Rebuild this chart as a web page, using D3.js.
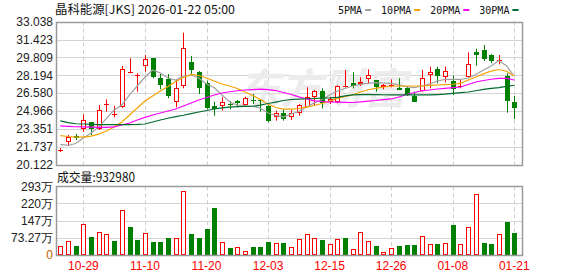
<!DOCTYPE html>
<html>
<head>
<meta charset="utf-8">
<script src="https://cdn.jsdelivr.net/npm/d3@7"></script>
<style>
  body { margin: 0; background: #fff; }
  text { font-family: "Liberation Sans", Arial, sans-serif; }
</style>
</head>
<body>
<div id="svgContainer"></div>
<script>
var dates = ["10-24","10-27","10-28","10-29","10-30","10-31","11-03","11-04","11-05","11-06",
  "11-07","11-10","11-11","11-12","11-13","11-14","11-17","11-18","11-19","11-20",
  "11-21","11-24","11-25","11-26","11-28","12-01","12-02","12-03","12-04","12-05",
  "12-08","12-09","12-10","12-11","12-12","12-15","12-16","12-17","12-18","12-19",
  "12-22","12-23","12-24","12-26","12-29","12-30","12-31","01-02","01-05","01-06",
  "01-07","01-08","01-09","01-12","01-13","01-14","01-15","01-16","01-20","01-21"];

var opens = [21.42, 22.14, 22.68, 23.37, 23.98, 23.37, 25.50, 24.66, 25.31, 28.48,
  28.15, 29.01, 29.76, 27.93, 27.86, 25.76, 27.23, 29.37, 28.47, 27.47,
  25.42, 25.42, 25.63, 25.87, 25.51, 26.00, 25.96, 25.42, 24.40, 24.76,
  24.40, 24.76, 25.36, 26.26, 26.81, 25.76, 25.81, 27.15, 27.53, 27.38,
  27.86, 27.77, 27.17, 27.30, 27.08, 27.02, 26.33, 26.81, 28.20, 28.74,
  28.07, 27.68, 27.11, 28.07, 30.30, 30.45, 30.03, 29.48, 28.13, 25.78];
var highs = [21.62, 22.80, 22.90, 24.67, 23.98, 25.51, 26.03, 25.42, 29.04, 29.73,
  28.38, 30.03, 29.76, 28.31, 28.31, 27.77, 32.04, 29.94, 28.58, 27.71,
  25.81, 26.21, 25.85, 25.97, 26.26, 26.51, 25.99, 25.51, 25.00, 25.10,
  25.06, 25.60, 27.11, 26.87, 27.02, 26.26, 27.30, 28.67, 28.47, 28.02,
  28.74, 27.77, 27.41, 27.83, 27.93, 27.17, 26.72, 28.67, 28.97, 28.97,
  28.97, 28.16, 27.77, 30.27, 30.60, 30.93, 30.10, 30.03, 28.38, 26.33];
var lows = [21.26, 21.81, 22.35, 23.07, 22.80, 23.26, 24.91, 24.40, 25.25, 28.38,
  26.72, 28.52, 27.93, 26.93, 26.12, 25.31, 27.02, 28.22, 26.51, 25.13,
  24.55, 25.00, 25.12, 25.31, 25.45, 25.60, 24.91, 23.95, 24.10, 24.10,
  24.16, 24.55, 25.31, 25.42, 25.20, 25.60, 25.67, 27.10, 27.02, 27.23,
  27.47, 26.72, 26.93, 27.11, 26.87, 26.33, 25.81, 26.72, 27.02, 27.47,
  27.56, 26.42, 27.02, 28.02, 29.06, 29.49, 29.28, 29.19, 24.82, 24.25];
var closes = [21.47, 22.59, 22.55, 24.16, 23.37, 25.06, 25.58, 24.74, 28.74, 28.52,
  28.25, 29.70, 28.07, 27.32, 26.33, 27.02, 30.63, 28.67, 27.02, 25.27,
  25.12, 25.76, 25.57, 25.67, 26.12, 25.92, 25.90, 24.10, 24.76, 24.25,
  24.82, 25.48, 26.26, 26.78, 25.67, 26.06, 27.23, 27.19, 27.26, 27.59,
  28.22, 27.17, 27.32, 27.34, 26.90, 26.42, 25.81, 27.93, 28.47, 28.16,
  28.58, 26.93, 27.23, 29.22, 30.06, 29.67, 29.52, 29.55, 25.90, 25.21];

// volume in 万 shares
var volumes = [38, 60, 38, 131, 77, 97, 88, 60, 192, 119,
  64, 93, 55, 55, 72, 71, 272, 90, 72, 111,
  200, 54, 30, 33, 16, 34, 34, 55, 51, 51,
  34, 68, 88, 72, 64, 47, 68, 72, 26, 97,
  60, 38, 13, 30, 38, 43, 43, 81, 47, 47,
  51, 128, 47, 119, 260, 51, 47, 90, 141, 93.298];

var ma5 = [21.95, 21.86, 22.04, 22.53, 22.98, 23.53, 24.30, 25.06, 25.52, 26.42,
  27.23, 28.04, 28.67, 28.40, 27.95, 27.77, 28.13, 28.22, 27.95, 27.41,
  27.09, 26.42, 25.81, 25.51, 25.47, 25.42, 25.22, 24.79, 24.57, 24.43,
  24.70, 24.93, 25.33, 25.69, 26.01, 26.42, 26.78, 27.00, 27.23, 27.37,
  27.47, 27.53, 27.50, 27.46, 27.32, 27.18, 27.09, 27.23, 27.41, 27.68,
  27.82, 27.82, 27.82, 27.95, 28.27, 28.67, 29.04, 29.53, 29.04, 28.09];
var ma10 = [22.74, 22.67, 22.62, 22.62, 22.71, 22.89, 23.17, 23.53, 23.98, 24.61,
  25.24, 25.87, 26.33, 26.78, 27.18, 27.64, 28.00, 28.27, 28.18, 27.95,
  27.68, 27.41, 27.23, 27.00, 26.69, 26.37, 26.01, 25.60, 25.29, 25.15,
  25.15, 25.20, 25.33, 25.47, 25.65, 25.87, 26.10, 26.28, 26.42, 26.69,
  26.89, 27.02, 27.14, 27.21, 27.23, 27.23, 27.23, 27.23, 27.28, 27.32,
  27.35, 27.39, 27.46, 27.77, 28.04, 28.33, 28.58, 28.72, 28.56, 28.13];
var ma20 = [23.62, 23.59, 23.55, 23.53, 23.51, 23.50, 23.49, 23.53, 23.71, 23.89,
  24.16, 24.40, 24.61, 24.79, 24.97, 25.15, 25.42, 25.69, 25.97, 26.19,
  26.42, 26.60, 26.71, 26.80, 26.87, 26.91, 26.94, 26.91, 26.82, 26.64,
  26.46, 26.25, 26.06, 25.89, 25.83, 25.79, 25.77, 25.75, 25.74, 25.79,
  25.86, 25.92, 26.00, 26.06, 26.24, 26.46, 26.64, 26.80, 26.87, 26.96,
  27.02, 27.08, 27.14, 27.37, 27.59, 27.73, 27.84, 27.92, 27.93, 27.77];
var ma30 = [24.08, 23.93, 23.82, 23.80, 23.77, 23.75, 23.75, 23.75, 23.75, 23.75,
  23.76, 23.80, 23.98, 24.16, 24.32, 24.47, 24.59, 24.73, 24.88, 25.02,
  25.15, 25.26, 25.33, 25.37, 25.38, 25.40, 25.51, 25.65, 25.78, 25.92,
  26.01, 26.05, 26.08, 26.10, 26.13, 26.15, 26.21, 26.33, 26.42, 26.45,
  26.46, 26.45, 26.44, 26.42, 26.42, 26.42, 26.42, 26.42, 26.42, 26.45,
  26.49, 26.57, 26.64, 26.69, 26.80, 26.92, 27.01, 27.08, 27.19, 27.30];

var priceTicks = [33.038, 31.423, 29.809, 28.194, 26.580, 24.966, 23.351, 21.737, 20.122];
var volumeTicks = [0, 73.27, 146.5, 219.75, 293];
var volumeTickLabels = ["0", "73.27万", "147万", "220万", "293万"];
var dateTicks = ["10-29", "11-10", "11-20", "12-03", "12-15", "12-26", "01-08", "01-21"];
var maNames = ["5PMA", "10PMA", "20PMA", "30PMA"];
var maColors = ["#a0a0a0", "#f5a300", "#ff00ff", "#006b2e"];

var width = 578;
var height = 276;
var left = 56, right = 522;
var priceTop = 21.7, priceBottom = 164.7;
var volTop = 186.3, volBottom = 255;

var svg = d3.select("#svgContainer")
  .append("svg").attr("width", width).attr("height", height);

var x = d3.scalePoint().domain(dates).range([60.3, 514.3]);
var y = d3.scaleLinear().domain([20.122, 33.038]).range([priceBottom, priceTop]);
var yv = d3.scaleLinear().domain([0, 293]).range([volBottom, volTop]);

function px(v) { return Math.round(v) + 0.5; }

function hline(svg, x1, x2, yy, color, dash) {
  svg.append("line")
    .attr("x1", x1).attr("x2", x2)
    .attr("y1", px(yy)).attr("y2", px(yy))
    .style("stroke", color)
    .style("stroke-width", 1)
    .style("stroke-dasharray", dash || null);
}

function vline(svg, xx, y1, y2, color, dash) {
  svg.append("line")
    .attr("x1", px(xx)).attr("x2", px(xx))
    .attr("y1", y1).attr("y2", y2)
    .style("stroke", color)
    .style("stroke-width", 1)
    .style("stroke-dasharray", dash || null);
}

function drawFrame(svg, top, bottom) {
  svg.append("rect")
    .attr("x", px(left)).attr("y", px(top))
    .attr("width", right - left).attr("height", Math.round(bottom) - Math.round(top))
    .attr("fill", "none")
    .style("stroke", "#9a9a9a")
    .style("stroke-width", 1.5);
}

function drawPricePanel(svg) {
  priceTicks.forEach(function(t, i) {
    if (i > 0 && i < priceTicks.length - 1) hline(svg, left, right, y(t), "#d4d4d4");
    svg.append("text")
      .attr("x", 53).attr("y", y(t))
      .attr("dy", "0.35em")
      .attr("text-anchor", "end")
      .style("font-size", "12px")
      .style("fill", "#222")
      .text(d3.format(".3f")(t));
  });
  dateTicks.forEach(function(d) {
    vline(svg, x(d), priceTop, priceBottom, "#cfcfcf", "4,3");
  });

  // faint watermark
  svg.append("text")
    .attr("x", 238).attr("y", 104)
    .style("font-family", "'Noto Sans CJK SC'")
    .style("font-size", "42px")
    .style("font-weight", "bold")
    .style("font-style", "italic")
    .style("fill", "#ececec")
    .text("东方财富");

  drawFrame(svg, priceTop, priceBottom);
}

function drawCandles(svg) {
  var g = svg.append("g");
  dates.forEach(function(d, i) {
    var cx = Math.round(x(d));
    var up = closes[i] >= opens[i];
    var color = up ? "#ff0000" : "#008000";
    var top = Math.round(y(Math.max(opens[i], closes[i])));
    var bot = Math.round(y(Math.min(opens[i], closes[i])));
    var hi = y(highs[i]), lo = y(lows[i]);

    if (bot - top < 2) {
      // cross / doji
      g.append("line").attr("x1", cx + 0.5).attr("x2", cx + 0.5)
        .attr("y1", hi).attr("y2", lo).style("stroke", color);
      g.append("line").attr("x1", cx - 2).attr("x2", cx + 3)
        .attr("y1", top + 0.5).attr("y2", top + 0.5).style("stroke", color);
    } else if (up) {
      g.append("line").attr("x1", cx + 0.5).attr("x2", cx + 0.5)
        .attr("y1", hi).attr("y2", top).style("stroke", color);
      g.append("line").attr("x1", cx + 0.5).attr("x2", cx + 0.5)
        .attr("y1", bot).attr("y2", lo).style("stroke", color);
      g.append("rect")
        .attr("x", cx - 1.5).attr("y", top + 0.5)
        .attr("width", 4).attr("height", bot - top - 1)
        .attr("fill", "#fff").style("stroke", color);
    } else {
      g.append("line").attr("x1", cx + 0.5).attr("x2", cx + 0.5)
        .attr("y1", hi).attr("y2", lo).style("stroke", color);
      g.append("rect")
        .attr("x", cx - 2).attr("y", top)
        .attr("width", 5).attr("height", bot - top)
        .attr("fill", color);
    }
  });
}

function drawMALines(svg) {
  [ma5, ma10, ma20, ma30].forEach(function(series, k) {
    var line = d3.line()
      .x(function(v, i) { return x(dates[i]); })
      .y(function(v) { return y(v); });
    svg.append("path")
      .datum(series)
      .attr("d", line)
      .attr("fill", "none")
      .style("stroke", maColors[k])
      .style("stroke-width", 1.2);
  });
}

function drawLegend(svg) {
  var cursor = 338;
  maNames.forEach(function(name, k) {
    var t = svg.append("text")
      .attr("x", cursor).attr("y", 14)
      .style("font-family", "'DejaVu Sans Mono', monospace")
      .style("font-size", "10px")
      .style("fill", "#111")
      .text(name);
    var w = t.node().getComputedTextLength();
    svg.append("rect")
      .attr("x", cursor + w + 3).attr("y", 9)
      .attr("width", 6).attr("height", 2)
      .attr("fill", maColors[k]);
    cursor += w + 19;
  });
}

function drawTitle(svg) {
  svg.append("text")
    .attr("x", 55).attr("y", 14)
    .attr("textLength", 180)
    .attr("lengthAdjust", "spacingAndGlyphs")
    .style("font-family", "'Noto Sans CJK SC'")
    .style("font-size", "12px")
    .style("fill", "#111")
    .text("晶科能源[JKS] 2026-01-22 05:00");
  svg.append("text")
    .attr("x", 57).attr("y", 182)
    .attr("textLength", 78)
    .attr("lengthAdjust", "spacingAndGlyphs")
    .style("font-family", "'Noto Sans CJK SC'")
    .style("font-size", "12.5px")
    .style("fill", "#111")
    .text("成交量:" + Math.round(volumes[volumes.length - 1] * 10000));
}

function drawVolumePanel(svg) {
  volumeTicks.forEach(function(t, i) {
    if (i > 0 && i < volumeTicks.length - 1) hline(svg, left, right, yv(t), "#d4d4d4");
    svg.append("text")
      .attr("x", 53).attr("y", yv(t))
      .attr("dy", "0.35em")
      .attr("text-anchor", "end")
      .style("font-size", "12px")
      .style("fill", i === 0 ? "#c06000" : "#222")
      .text(volumeTickLabels[i]);
  });
  dateTicks.forEach(function(d) {
    vline(svg, x(d), volTop, volBottom, "#cfcfcf", "4,3");
    svg.append("text")
      .attr("x", x(d)).attr("y", 270)
      .attr("text-anchor", "middle")
      .style("font-size", "12px")
      .style("fill", "#ff0000")
      .text(d);
  });

  var g = svg.append("g");
  dates.forEach(function(d, i) {
    var cx = Math.round(x(d));
    var up = i === 0 ? closes[i] >= opens[i] : closes[i] >= closes[i - 1];
    var top = Math.round(yv(volumes[i]));
    var base = Math.round(volBottom);
    if (up) {
      g.append("rect")
        .attr("x", cx - 1.5).attr("y", top + 0.5)
        .attr("width", 4).attr("height", Math.max(base - top - 1, 1))
        .attr("fill", "#fff").style("stroke", "#ff0000");
    } else {
      g.append("rect")
        .attr("x", cx - 2).attr("y", top)
        .attr("width", 5).attr("height", base - top)
        .attr("fill", "#008000");
    }
  });

  drawFrame(svg, volTop, volBottom);
}

drawTitle(svg);
drawLegend(svg);
drawPricePanel(svg);
drawCandles(svg);
drawMALines(svg);
drawVolumePanel(svg);
</script>
</body>
</html>
